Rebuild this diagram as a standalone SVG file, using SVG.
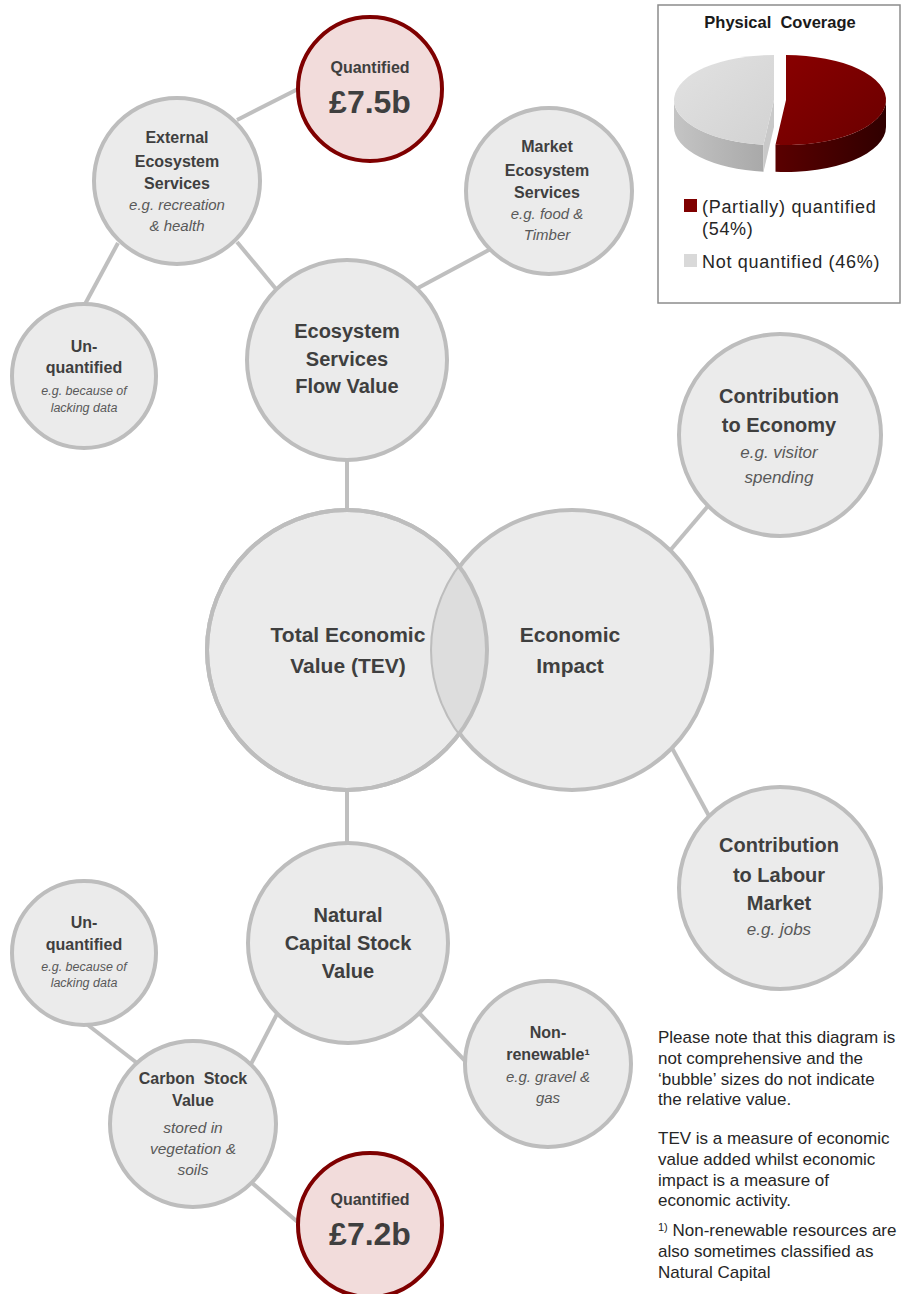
<svg xmlns="http://www.w3.org/2000/svg" width="912" height="1294" viewBox="0 0 912 1294">
<style>
  text { font-family: "Liberation Sans", Arial, sans-serif; }
  .node { fill: #ebebeb; stroke: #bdbdbd; stroke-width: 4; }
  .ring { fill: none; stroke: #bdbdbd; stroke-width: 4; }
  .quant { fill: #f2dcdb; stroke: #7f0000; stroke-width: 4; }
  .conn line { stroke: #bfbfbf; stroke-width: 4; }
  .b { font-weight: bold; fill: #3f3f3f; text-anchor: middle; }
  .i { font-style: italic; fill: #595959; text-anchor: middle; }
  .s16 { font-size: 16px; }
  .s20 { font-size: 20px; }
  .s21 { font-size: 21px; }
  .note { font-size: 17px; fill: #262626; }
  .leg { font-size: 18px; fill: #262626; letter-spacing: 0.7px; }
</style>
<defs>
  <clipPath id="eiClip"><circle cx="572" cy="650" r="140"/></clipPath>
  <linearGradient id="redTop" x1="0" y1="0" x2="1" y2="1">
    <stop offset="0" stop-color="#8a0000"/>
    <stop offset="1" stop-color="#6a0000"/>
  </linearGradient>
  <linearGradient id="redSide" x1="0" y1="0" x2="1" y2="0">
    <stop offset="0" stop-color="#5a0000"/>
    <stop offset="1" stop-color="#300000"/>
  </linearGradient>
  <linearGradient id="grayTop" x1="0" y1="0" x2="1" y2="1">
    <stop offset="0" stop-color="#e2e2e2"/>
    <stop offset="1" stop-color="#d2d2d2"/>
  </linearGradient>
  <linearGradient id="graySide" x1="0" y1="0" x2="1" y2="0">
    <stop offset="0" stop-color="#c4c4c4"/>
    <stop offset="1" stop-color="#a9a9a9"/>
  </linearGradient>
</defs>
<rect width="912" height="1294" fill="#ffffff"/>

<g id="connectors" class="conn">
  <line x1="237" y1="120" x2="300" y2="88"/>
  <line x1="118" y1="243" x2="84" y2="306"/>
  <line x1="237" y1="242" x2="276" y2="289"/>
  <line x1="418" y1="288" x2="500" y2="244"/>
  <line x1="347" y1="458" x2="347" y2="512"/>
  <line x1="668" y1="553" x2="708" y2="506"/>
  <line x1="672" y1="748" x2="709" y2="816"/>
  <line x1="347" y1="788" x2="347" y2="845"/>
  <line x1="277" y1="1014" x2="250" y2="1066"/>
  <line x1="420" y1="1014" x2="470" y2="1066"/>
  <line x1="84" y1="1022" x2="137" y2="1063"/>
  <line x1="252" y1="1183" x2="300" y2="1224"/>
</g>

<g id="legend">
  <rect x="658" y="5" width="242" height="298" fill="#ffffff" stroke="#8c8c8c" stroke-width="1.5"/>
  <text x="780" y="28" text-anchor="middle" font-size="16.5" font-weight="bold" fill="#1a1a1a" xml:space="preserve">Physical  Coverage</text>
  <path d="M763.5,144.75 A100,45 0 0 1 674,100 L674,127 A100,45 0 0 0 763.5,171.75 Z" fill="url(#graySide)"/>
  <path d="M774,100 L763.5,144.75 L763.5,171.75 L774,127 Z" fill="#c9c9c9"/>
  <path d="M774,100 L763.5,144.75 A100,45 0 0 1 774,55 Z" fill="url(#grayTop)"/>
  <path d="M886,100 A100,45 0 0 1 775.5,144.75 L775.5,171.75 A100,45 0 0 0 886,127 Z" fill="url(#redSide)"/>
  <path d="M786,100 L786,55 A100,45 0 1 1 775.5,144.75 Z" fill="url(#redTop)"/>
  <rect x="684" y="199" width="13" height="13" fill="#7f0000"/>
  <text class="leg" x="702" y="213">(Partially) quantified</text>
  <text class="leg" x="702" y="235">(54%)</text>
  <rect x="684" y="254" width="13" height="13" fill="#d9d9d9"/>
  <text class="leg" x="702" y="268">Not quantified (46%)</text>
</g>

<g id="node-quantified-top">
  <circle class="quant" cx="370" cy="89" r="72"/>
  <text class="b s16" x="370" y="73">Quantified</text>
  <text class="b" x="370" y="113" font-size="32">£7.5b</text>
</g>

<g id="node-external">
  <circle class="node" cx="177" cy="181" r="83"/>
  <text class="b s16" x="177" y="143">External</text>
  <text class="b s16" x="177" y="167">Ecosystem</text>
  <text class="b s16" x="177" y="189">Services</text>
  <text class="i" font-size="15" x="177" y="210">e.g. recreation</text>
  <text class="i" font-size="15" x="177" y="231">&amp; health</text>
</g>

<g id="node-market">
  <circle class="node" cx="549" cy="191" r="83"/>
  <text class="b s16" x="547" y="152">Market</text>
  <text class="b s16" x="547" y="176">Ecosystem</text>
  <text class="b s16" x="547" y="198">Services</text>
  <text class="i" font-size="15" x="547" y="219">e.g. food &amp;</text>
  <text class="i" font-size="15" x="547" y="240">Timber</text>
</g>

<g id="node-unquantified-top">
  <circle class="node" cx="84" cy="376" r="72"/>
  <text class="b s16" x="84" y="352">Un-</text>
  <text class="b s16" x="84" y="373">quantified</text>
  <text class="i" font-size="12.5" x="84" y="395">e.g. because of</text>
  <text class="i" font-size="12.5" x="84" y="412">lacking data</text>
</g>

<g id="node-flow">
  <circle class="node" cx="347" cy="360" r="100"/>
  <text class="b s20" x="347" y="338">Ecosystem</text>
  <text class="b s20" x="347" y="366">Services</text>
  <text class="b s20" x="347" y="393">Flow Value</text>
</g>

<g id="node-tev">
  <circle class="node" cx="347" cy="650" r="140"/>
</g>

<g id="node-economic-impact">
  <circle class="node" cx="572" cy="650" r="140"/>
  <circle cx="347" cy="650" r="140" fill="#dddddd" clip-path="url(#eiClip)"/>
  <circle class="ring" cx="347" cy="650" r="140"/>
  <text class="b s21" x="570" y="642">Economic</text>
  <text class="b s21" x="570" y="673">Impact</text>
  <text class="b s21" x="348" y="642">Total Economic</text>
  <text class="b s21" x="348" y="673">Value (TEV)</text>
</g>

<g id="node-contrib-economy">
  <circle class="node" cx="780" cy="435" r="101"/>
  <text class="b s20" x="779" y="403">Contribution</text>
  <text class="b s20" x="779" y="432">to Economy</text>
  <text class="i" font-size="17" x="779" y="458">e.g. visitor</text>
  <text class="i" font-size="17" x="779" y="483">spending</text>
</g>

<g id="node-contrib-labour">
  <circle class="node" cx="780" cy="888" r="101"/>
  <text class="b s20" x="779" y="852">Contribution</text>
  <text class="b s20" x="779" y="882">to Labour</text>
  <text class="b s20" x="779" y="910">Market</text>
  <text class="i" font-size="17" x="779" y="935">e.g. jobs</text>
</g>

<g id="node-natural-capital">
  <circle class="node" cx="348" cy="943" r="100"/>
  <text class="b s20" x="348" y="922">Natural</text>
  <text class="b s20" x="348" y="950">Capital Stock</text>
  <text class="b s20" x="348" y="978">Value</text>
</g>

<g id="node-unquantified-bottom">
  <circle class="node" cx="84" cy="953" r="72"/>
  <text class="b s16" x="84" y="928">Un-</text>
  <text class="b s16" x="84" y="950">quantified</text>
  <text class="i" font-size="12.5" x="84" y="971">e.g. because of</text>
  <text class="i" font-size="12.5" x="84" y="987">lacking data</text>
</g>

<g id="node-carbon">
  <circle class="node" cx="193" cy="1124" r="83"/>
  <text class="b s16" x="193" y="1084" xml:space="preserve">Carbon  Stock</text>
  <text class="b s16" x="193" y="1106">Value</text>
  <text class="i" font-size="15.5" x="193" y="1133">stored in</text>
  <text class="i" font-size="15.5" x="193" y="1154">vegetation &amp;</text>
  <text class="i" font-size="15.5" x="193" y="1175">soils</text>
</g>

<g id="node-nonrenewable">
  <circle class="node" cx="548" cy="1064" r="83"/>
  <text class="b s16" x="548" y="1038">Non-</text>
  <text class="b s16" x="548" y="1060">renewable¹</text>
  <text class="i" font-size="15" x="548" y="1082">e.g. gravel &amp;</text>
  <text class="i" font-size="15" x="548" y="1103">gas</text>
</g>

<g id="node-quantified-bottom">
  <circle class="quant" cx="370" cy="1225" r="72"/>
  <text class="b s16" x="370" y="1205">Quantified</text>
  <text class="b" x="370" y="1245" font-size="32">£7.2b</text>
</g>

<g id="notes">
  <text class="note" x="658" y="1043">Please note that this diagram is</text>
  <text class="note" x="658" y="1064">not comprehensive and the</text>
  <text class="note" x="658" y="1085">‘bubble’ sizes do not indicate</text>
  <text class="note" x="658" y="1105">the relative value.</text>
  <text class="note" x="658" y="1144">TEV is a measure of economic</text>
  <text class="note" x="658" y="1165">value added whilst economic</text>
  <text class="note" x="658" y="1186">impact is a measure of</text>
  <text class="note" x="658" y="1206">economic activity.</text>
  <text class="note" x="658" y="1236"><tspan font-size="11" dy="-5">1)</tspan><tspan dy="5"> Non-renewable resources are</tspan></text>
  <text class="note" x="658" y="1257">also sometimes classified as</text>
  <text class="note" x="658" y="1278">Natural Capital</text>
</g>
</svg>
